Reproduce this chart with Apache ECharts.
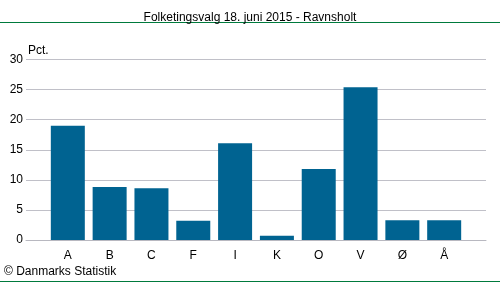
<!DOCTYPE html>
<html><head><meta charset="utf-8">
<script src="https://cdn.jsdelivr.net/npm/echarts@6/dist/echarts.min.js"></script>
<style>html,body{margin:0;padding:0;background:#fff}#c{width:500px;height:282px}</style>
</head><body><div id="c"></div>
<script>
const categories = ['A','B','C','F','I','K','O','V','Ø','Å'];
const values = [19.0, 8.8, 8.6, 3.2, 16.1, 0.7, 11.8, 25.4, 3.3, 3.3];
const yTicks = [0, 5, 10, 15, 20, 25, 30];

const cats = [''].concat(categories, ['']);
const data = ['-'].concat(values, ['-']);
const font = 'Arial, "Liberation Sans", sans-serif';
const chart = echarts.init(document.getElementById('c'), null, {renderer:'canvas'});
chart.setOption({
  animation: false,
  title: {text: 'Folketingsvalg 18. juni 2015 - Ravnsholt', left: 'center', top: 7,
    textStyle: {fontSize: 12, fontWeight: 'normal', color: '#000', fontFamily: font}},
  grid: {left: 26, right: 14, top: 59.5, bottom: 42},
  xAxis: {type: 'category', data: cats, boundaryGap: false,
    axisLine: {lineStyle: {color: '#b8b8c0'}}, axisTick: {show: false},
    axisLabel: {color: '#000', fontSize: 12, fontFamily: font, margin: 10}},
  yAxis: {type: 'value', min: yTicks[0], max: yTicks[yTicks.length-1], interval: 5,
    axisLine: {show: false}, axisTick: {show: false},
    axisLabel: {color: '#000', fontSize: 12, fontFamily: font, margin: 3},
    splitLine: {lineStyle: {color: '#c0c0c8'}}},
  series: [{type: 'bar', data: data, barWidth: 34, itemStyle: {color: '#006391'}}],
  graphic: [
    {type: 'line', shape: {x1: 0, y1: 22.5, x2: 500, y2: 22.5}, style: {stroke: '#007a3d', lineWidth: 1}},
    {type: 'line', shape: {x1: 0, y1: 281.5, x2: 500, y2: 281.5}, style: {stroke: '#007a3d', lineWidth: 1}},
    {type: 'text', left: 28, top: 45, style: {text: 'Pct.', fill: '#000', font: '12px ' + font}},
    {type: 'text', left: 4, top: 266, style: {text: '© Danmarks Statistik', fill: '#000', font: '12px ' + font}}
  ]
});
</script></body></html>
